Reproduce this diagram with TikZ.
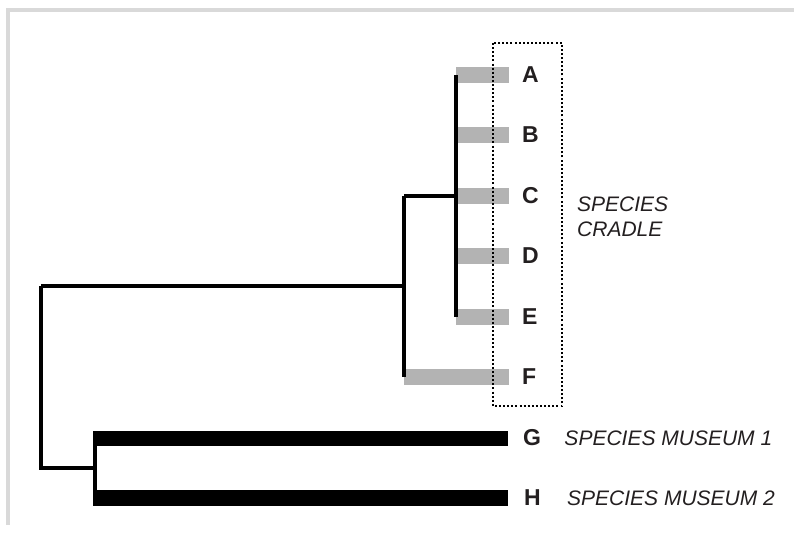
\documentclass[tikz,border=0pt]{standalone}
\usepackage{fontspec}
\setmainfont{Liberation Sans}
\usetikzlibrary{positioning}
\definecolor{barGray}{HTML}{B3B3B3}
\definecolor{frameGray}{HTML}{D9D9D9}
\definecolor{inkGray}{HTML}{231F20}
\tikzset{
  branch/.style={line width=3.4pt,black},
  stembar/.style={line width=16pt,barGray},
  museumbar/.style={line width=15pt,black},
  taxon/.style={font=\fontsize{23}{23}\selectfont\bfseries,text=inkGray,inner sep=0pt},
  note/.style={font=\fontsize{21}{25}\selectfont\itshape,text=inkGray,inner sep=0pt,align=left},
  cradlebox/.style={line width=2pt,dash pattern=on 2pt off 2.1pt},
}

\begin{document}
\begin{tikzpicture}[x=1pt,y=-1pt]
  \useasboundingbox (0,0) rectangle (794,535);
  % frame
  \fill[frameGray] (6,8) rectangle (794,12);
  \fill[frameGray] (6,8) rectangle (10,525);

  % internal nodes of the tree
  \coordinate (root) at (41,377);
  \coordinate (uAF) at (404,286);
  \coordinate (uAE) at (456,196);
  \coordinate (uGH) at (95,468);

  % cradle species
  \foreach \name/\y in {A/75,B/135,C/196,D/256,E/317,F/377}{
    \coordinate (t\name) at (509,\y);
    \node[taxon,right=13pt of t\name] (\name) {\name};
  }
  \foreach \name in {A,B,C,D,E}
    \draw[stembar] (uAE |- t\name) -- (t\name);
  \draw[stembar] (uAF |- tF) -- (tF);

  % museum species
  \coordinate (tG) at (508,438);
  \coordinate (tH) at (508,498);
  \node[taxon,right=15pt of tG] (G) {G};
  \node[taxon,right=16pt of tH] (H) {H};
  \draw[museumbar] ([xshift=-2pt]uGH |- tG) -- (tG);
  \draw[museumbar,line width=16pt] ([xshift=-2pt]uGH |- tH) -- (tH);
  \node[note,right=23pt of G] (museumG) {SPECIES MUSEUM 1};
  \node[note,right=26pt of H] (museumH) {SPECIES MUSEUM 2};

  % branches
  \draw[branch] (uAE |- tA) -- (uAE |- tE);
  \draw[branch] (uAF |- uAE) -- (uAE);
  \draw[branch] (uAF |- uAE) -- (uAF |- tF);
  \draw[branch] (root |- uAF) -- (uAF);
  \draw[branch] (root |- uAF) -- (root |- uGH) -- (uGH);
  \draw[branch] (uGH |- tG) -- (uGH |- tH);

  % cradle box
  \draw[cradlebox] (493,43) rectangle (562,406);
  \node[note,anchor=west] (cradle) at (577,217) {SPECIES\\CRADLE};
\end{tikzpicture}
\end{document}
